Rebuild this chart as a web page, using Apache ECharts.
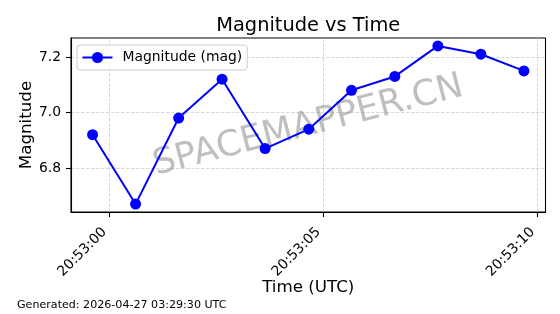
<!DOCTYPE html>
<html>
<head>
<meta charset="utf-8">
<script src="https://cdn.jsdelivr.net/npm/echarts@6/dist/echarts.min.js"></script>
<style>
html,body{margin:0;padding:0;background:#fff;}
#chart{width:560px;height:314px;}
</style>
</head>
<body>
<div id="chart"></div>
<script>
// ---- data ----
const obsDate = '2026-04-26';
const times = ['20:52:59.610', '20:53:00.614', '20:53:01.619', '20:53:02.633', '20:53:03.638', '20:53:04.657', '20:53:05.654', '20:53:06.666', '20:53:07.671', '20:53:08.675', '20:53:09.680'];
const magnitudes = [6.92, 6.67, 6.98, 7.12, 6.87, 6.94, 7.08, 7.13, 7.24, 7.21, 7.15];
const xTickTimes = ['20:53:00', '20:53:05', '20:53:10'];
const yTicks = [6.8, 7.0, 7.2];
const seriesName = 'Magnitude (mag)';
const titleText = 'Magnitude vs Time';
const xName = 'Time (UTC)';
const yName = 'Magnitude';
const watermark = 'SPACEMAPPER.CN';
const footer = 'Generated: 2026-04-27 03:29:30 UTC';

// ---- build ----
const toMs = t => Date.parse(obsDate + 'T' + t + 'Z');
const xs = times.map(toMs);
const points = xs.map((x, i) => [x, magnitudes[i]]);
const xTickMs = xTickTimes.map(toMs);
const pad = (lo, hi) => { const m = (hi - lo) * 0.05; return [lo - m, hi + m]; };
const [xMin, xMax] = pad(Math.min(...xs), Math.max(...xs));
const [yMin, yMax] = pad(Math.min(...magnitudes), Math.max(...magnitudes));
const two = n => String(n).padStart(2, '0');
const fmtTime = v => { const d = new Date(v); return two(d.getUTCHours()) + ':' + two(d.getUTCMinutes()) + ':' + two(d.getUTCSeconds()); };

const FONT = 'DejaVu Sans';
const gridLeft = 71, gridRight = 14.5, gridTop = 38, gridBottom = 102;
const W = 560, H = 314;
const cx = gridLeft + (W - gridLeft - gridRight) / 2;
const cy = gridTop + (H - gridTop - gridBottom) / 2;

const splitStyle = { show: true, lineStyle: { color: '#cfcfcf', width: 0.8, type: [3.5, 1.5] } };

const chart = echarts.init(document.getElementById('chart'), null, { renderer: 'canvas' });
chart.setOption({
  animation: false,
  backgroundColor: '#fff',
  textStyle: { fontFamily: FONT },
  title: {
    text: titleText,
    left: cx - 5,
    textAlign: 'center',
    top: 11,
    textStyle: { fontFamily: FONT, fontSize: 19.4, fontWeight: 'normal', color: '#000' }
  },
  grid: {
    left: gridLeft, right: gridRight, top: gridTop, bottom: gridBottom,
    show: true, borderColor: '#000', borderWidth: 1.1, backgroundColor: 'transparent'
  },
  legend: {
    data: [seriesName],
    left: 77, top: 45,
    orient: 'vertical',
    padding: [5.5, 5, 5.5, 4.5],
    itemWidth: 30, itemHeight: 14,
    backgroundColor: 'rgba(255,255,255,0.8)',
    borderColor: '#cccccc', borderWidth: 1, borderRadius: 3,
    textStyle: { fontFamily: FONT, fontSize: 13.9, color: '#000', padding: [0, 0, 0, 5] }
  },
  xAxis: {
    type: 'value',
    min: xMin, max: xMax,
    name: xName, nameLocation: 'middle', nameGap: 67, nameMoveOverlap: false,
    nameTextStyle: { fontFamily: FONT, fontSize: 16.7, color: '#000' },
    axisLine: { show: true, lineStyle: { color: '#000', width: 1.1 } },
    axisTick: { show: true, customValues: xTickMs, length: 5, lineStyle: { color: '#000', width: 1.1 } },
    axisLabel: { customValues: xTickMs, rotate: 45, margin: 23, verticalAlign: 'bottom', fontFamily: FONT, fontSize: 13.9, color: '#000', formatter: fmtTime },
    splitLine: splitStyle
  },
  yAxis: {
    type: 'value',
    min: yMin, max: yMax,
    name: yName, nameLocation: 'middle', nameGap: 36, nameMoveOverlap: false,
    nameTextStyle: { fontFamily: FONT, fontSize: 16.7, color: '#000' },
    axisLine: { show: true, lineStyle: { color: '#000', width: 1.1 } },
    axisTick: { show: true, customValues: yTicks, length: 5, lineStyle: { color: '#000', width: 1.1 } },
    axisLabel: { customValues: yTicks, margin: 10, fontFamily: FONT, fontSize: 13.9, color: '#000', formatter: v => v.toFixed(1) },
    splitLine: splitStyle
  },
  graphic: [
    {
      type: 'text', x: cx, y: cy + 1, rotation: 14.5 * Math.PI / 180, z: 1, silent: true,
      style: { text: watermark, fill: 'rgba(128,128,128,0.5)', font: '35.5px "DejaVu Sans"', textAlign: 'center', textVerticalAlign: 'middle' }
    },
    {
      type: 'text', left: 17, top: 299.5, silent: true,
      style: { text: footer, fill: '#000', font: '11.1px "DejaVu Sans"' }
    }
  ],
  series: [{
    name: seriesName,
    type: 'line',
    data: points,
    z: 3,
    symbol: 'circle', symbolSize: 11,
    lineStyle: { color: '#0000ff', width: 2 },
    itemStyle: { color: '#0000ff' }
  }]
});
</script>
</body>
</html>
